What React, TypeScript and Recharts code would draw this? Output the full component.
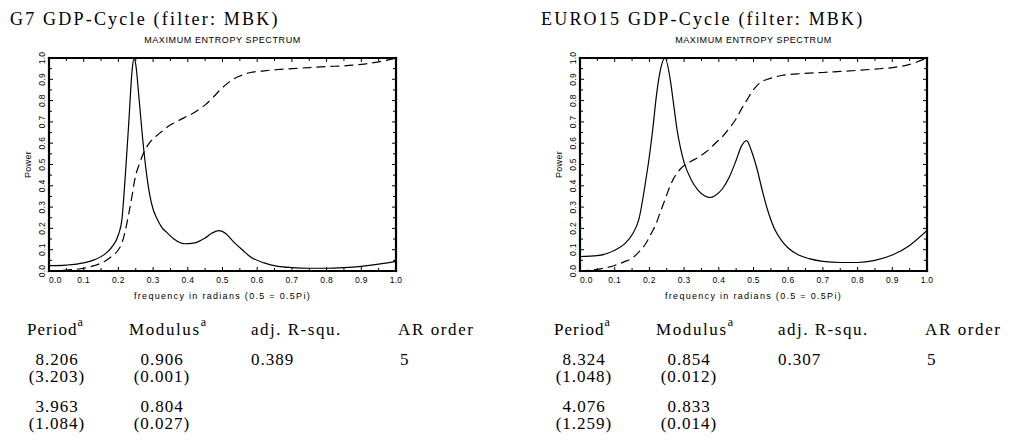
import { LineChart, Line, XAxis, YAxis, Label } from "recharts"

// G7 maximum entropy spectrum (solid) and cumulated spectrum (dashed)
const g7Freq = [0, 0.05, 0.1, 0.13, 0.16, 0.18, 0.2, 0.21, 0.22, 0.23, 0.24, 0.245, 0.25, 0.26, 0.27, 0.28, 0.29, 0.3, 0.31, 0.325, 0.34, 0.36, 0.39, 0.42, 0.45, 0.47, 0.49, 0.51, 0.53, 0.56, 0.58, 0.62, 0.66, 0.7, 0.75, 0.8, 0.85, 0.9, 0.95, 1.0]
const g7Power = [0.025, 0.028, 0.038, 0.052, 0.078, 0.11, 0.17, 0.24, 0.45, 0.7, 0.95, 1.0, 0.97, 0.8, 0.62, 0.47, 0.36, 0.29, 0.25, 0.205, 0.18, 0.15, 0.128, 0.132, 0.155, 0.178, 0.19, 0.175, 0.14, 0.095, 0.067, 0.038, 0.022, 0.016, 0.013, 0.013, 0.016, 0.022, 0.032, 0.045]
const g7Cumulative = [0, 0.004, 0.013, 0.025, 0.045, 0.068, 0.1, 0.13, 0.19, 0.27, 0.36, 0.41, 0.45, 0.5, 0.545, 0.578, 0.603, 0.62, 0.635, 0.655, 0.675, 0.695, 0.72, 0.745, 0.78, 0.81, 0.845, 0.875, 0.9, 0.922, 0.932, 0.94, 0.946, 0.95, 0.955, 0.96, 0.963, 0.97, 0.982, 1.0]

// EURO15
const euroFreq = [0, 0.05, 0.1, 0.13, 0.15, 0.17, 0.19, 0.2, 0.21, 0.22, 0.23, 0.245, 0.26, 0.27, 0.28, 0.29, 0.3, 0.32, 0.34, 0.36, 0.375, 0.39, 0.41, 0.43, 0.45, 0.465, 0.48, 0.495, 0.51, 0.525, 0.54, 0.56, 0.58, 0.6, 0.63, 0.66, 0.7, 0.75, 0.8, 0.85, 0.9, 0.95, 1.0]
const euroPower = [0.068, 0.072, 0.097, 0.13, 0.17, 0.245, 0.43, 0.54, 0.67, 0.82, 0.93, 1.0, 0.9, 0.78, 0.66, 0.575, 0.51, 0.43, 0.38, 0.352, 0.345, 0.355, 0.385, 0.44, 0.52, 0.585, 0.612, 0.56, 0.48, 0.38, 0.29, 0.2, 0.145, 0.108, 0.075, 0.058, 0.045, 0.04, 0.04, 0.05, 0.075, 0.12, 0.19]
const euroCumulative = [0, 0.008, 0.026, 0.045, 0.06, 0.09, 0.13, 0.16, 0.19, 0.225, 0.27, 0.335, 0.4, 0.435, 0.46, 0.48, 0.495, 0.515, 0.533, 0.555, 0.575, 0.6, 0.63, 0.67, 0.715, 0.76, 0.8, 0.84, 0.87, 0.89, 0.9, 0.91, 0.918, 0.922, 0.926, 0.929, 0.932, 0.937, 0.942, 0.948, 0.955, 0.97, 1.0]

const axisTicks = [0, 0.05, 0.1, 0.15, 0.2, 0.25, 0.3, 0.35, 0.4, 0.45, 0.5, 0.55, 0.6, 0.65, 0.7, 0.75, 0.8, 0.85, 0.9, 0.95, 1.0]

const tableHeaders = ["Period", "Modulus", "adj. R-squ.", "AR order"]
const g7Periods = ["8.206", "3.963"]
const g7PeriodErr = ["(3.203)", "(1.084)"]
const g7Moduli = ["0.906", "0.804"]
const g7ModuliErr = ["(0.001)", "(0.027)"]
const euroPeriods = ["8.324", "4.076"]
const euroPeriodErr = ["(1.048)", "(1.259)"]
const euroModuli = ["0.854", "0.833"]
const euroModuliErr = ["(0.012)", "(0.014)"]

const sans = "'Liberation Sans', Arial, sans-serif"
const serif = "'Liberation Serif', 'DejaVu Serif', serif"

const isMajor = (v: number) => Math.round(v * 100) % 10 === 0

function tickFor(side: "bottom" | "top" | "left" | "right") {
  return (props: any) => {
    const { x, y, payload } = props
    const v = payload.value as number
    const len = isMajor(v) ? 4 : 3
    const small = { fontSize: 8.5, letterSpacing: 0.3, fontFamily: sans }
    if (side === "bottom") {
      return (
        <g>
          <line x1={x} y1={y} x2={x} y2={y - len} stroke="#000" />
          {isMajor(v) && (
            <text x={x} y={y + 12} textAnchor={v === 0 ? "start" : "middle"} style={small} fill="#000">
              {v.toFixed(1)}
            </text>
          )}
        </g>
      )
    }
    if (side === "top") return <line x1={x} y1={y} x2={x} y2={y + len} stroke="#000" />
    if (side === "right") return <line x1={x} y1={y} x2={x - len} y2={y} stroke="#000" />
    return (
      <g>
        <line x1={x} y1={y} x2={x + len} y2={y} stroke="#000" />
        {isMajor(v) && (
          <text x={x - 4} y={y} transform={`rotate(-90 ${x - 4} ${y})`} textAnchor="middle" style={small} fill="#000">
            {v.toFixed(1)}
          </text>
        )}
      </g>
    )
  }
}

const frame = { stroke: "#000", strokeWidth: 2.2, strokeLinecap: "square" as const }

function Spectrum({ freq, power, cumulative }: { freq: number[]; power: number[]; cumulative: number[] }) {
  const rows = freq.map((f, i) => ({ f, power: power[i], cum: cumulative[i] }))
  return (
    <LineChart width={500} height={310} data={rows} margin={{ top: 57, right: 103, bottom: 38, left: 48 }}>
      <XAxis dataKey="f" type="number" domain={[0, 1]} ticks={axisTicks} interval={0} height={1} tickSize={0} tickMargin={0} axisLine={frame} tick={tickFor("bottom")} allowDataOverflow>
        <Label
          content={({ viewBox }: any) => (
            <text x={viewBox.x + viewBox.width / 2} y={viewBox.y + 28} textAnchor="middle" style={{ fontSize: 9, letterSpacing: 1.3, fontFamily: sans }} fill="#000">
              frequency in radians (0.5 = 0.5Pi)
            </text>
          )}
        />
      </XAxis>
      <XAxis xAxisId="top" orientation="top" dataKey="f" type="number" domain={[0, 1]} ticks={axisTicks} interval={0} height={1} tickSize={0} tickMargin={0} axisLine={frame} tick={tickFor("top")} allowDataOverflow>
        <Label
          content={({ viewBox }: any) => (
            <text x={viewBox.x + viewBox.width / 2} y={viewBox.y + viewBox.height - 15} textAnchor="middle" style={{ fontSize: 9, letterSpacing: 0.6, fontFamily: sans }} fill="#000">
              MAXIMUM ENTROPY SPECTRUM
            </text>
          )}
        />
      </XAxis>
      <YAxis type="number" domain={[0, 1]} ticks={axisTicks} interval={0} width={1} tickSize={0} tickMargin={0} axisLine={frame} tick={tickFor("left")} allowDataOverflow>
        <Label
          content={({ viewBox }: any) => {
            const cx = viewBox.x + viewBox.width - 18
            const cy = viewBox.y + viewBox.height / 2
            return (
              <text x={cx} y={cy} transform={`rotate(-90 ${cx} ${cy})`} textAnchor="middle" style={{ fontSize: 9, letterSpacing: 0.3, fontFamily: sans }} fill="#000">
                Power
              </text>
            )
          }}
        />
      </YAxis>
      <YAxis yAxisId="right" orientation="right" type="number" domain={[0, 1]} ticks={axisTicks} interval={0} width={1} tickSize={0} tickMargin={0} axisLine={frame} tick={tickFor("right")} allowDataOverflow />
      <Line type="monotone" dataKey="power" stroke="#000" strokeWidth={1.2} dot={false} isAnimationActive={false} />
      <Line type="monotone" dataKey="cum" stroke="#000" strokeWidth={1.2} strokeDasharray="9 5" dot={false} isAnimationActive={false} />
    </LineChart>
  )
}

function StatsTable({ dx, periods, periodErr, moduli, moduliErr, rsq, order }: any) {
  const t = { fontFamily: serif, fontSize: 17, letterSpacing: 1 }
  return (
    <g transform={`translate(${dx},0)`} fill="#000">
      <text x={27} y={335} style={t}>
        {tableHeaders[0]}
        <tspan dy={-9} style={{ fontSize: 12 }}>a</tspan>
      </text>
      <text x={129} y={335} style={{ ...t, letterSpacing: 1.6 }}>
        {tableHeaders[1]}
        <tspan dy={-9} style={{ fontSize: 12 }}>a</tspan>
      </text>
      <text x={251} y={335} style={{ ...t, letterSpacing: 1.5 }}>{tableHeaders[2]}</text>
      <text x={398} y={335} style={{ ...t, letterSpacing: 1.6 }}>{tableHeaders[3]}</text>
      {periods.map((p: string, i: number) => (
        <g key={p}>
          <text x={57} y={365 + i * 47} textAnchor="middle" style={t}>{p}</text>
          <text x={57} y={382 + i * 47} textAnchor="middle" style={t}>{periodErr[i]}</text>
          <text x={162} y={365 + i * 47} textAnchor="middle" style={t}>{moduli[i]}</text>
          <text x={162} y={382 + i * 47} textAnchor="middle" style={t}>{moduliErr[i]}</text>
        </g>
      ))}
      <text x={251} y={365} style={t}>{rsq}</text>
      <text x={400} y={365} style={t}>{order}</text>
    </g>
  )
}

export default function App() {
  const title = { fontFamily: serif, fontSize: 18, letterSpacing: 2.2 }
  return (
    <div style={{ position: "absolute", left: 0, top: 0, width: 1015, height: 441, background: "#fff" }}>
      <div style={{ position: "absolute", left: 0, top: 0 }}>
        <Spectrum freq={g7Freq} power={g7Power} cumulative={g7Cumulative} />
      </div>
      <div style={{ position: "absolute", left: 531, top: 0 }}>
        <Spectrum freq={euroFreq} power={euroPower} cumulative={euroCumulative} />
      </div>
      <svg width={1015} height={441} style={{ position: "absolute", left: 0, top: 0, pointerEvents: "none" }}>
        <text x={10} y={25} style={title} fill="#000">G7 GDP-Cycle (filter: MBK)</text>
        <text x={541} y={25} style={title} fill="#000">EURO15 GDP-Cycle (filter: MBK)</text>
        <StatsTable dx={0} periods={g7Periods} periodErr={g7PeriodErr} moduli={g7Moduli} moduliErr={g7ModuliErr} rsq="0.389" order="5" />
        <StatsTable dx={527} periods={euroPeriods} periodErr={euroPeriodErr} moduli={euroModuli} moduliErr={euroModuliErr} rsq="0.307" order="5" />
      </svg>
    </div>
  )
}
